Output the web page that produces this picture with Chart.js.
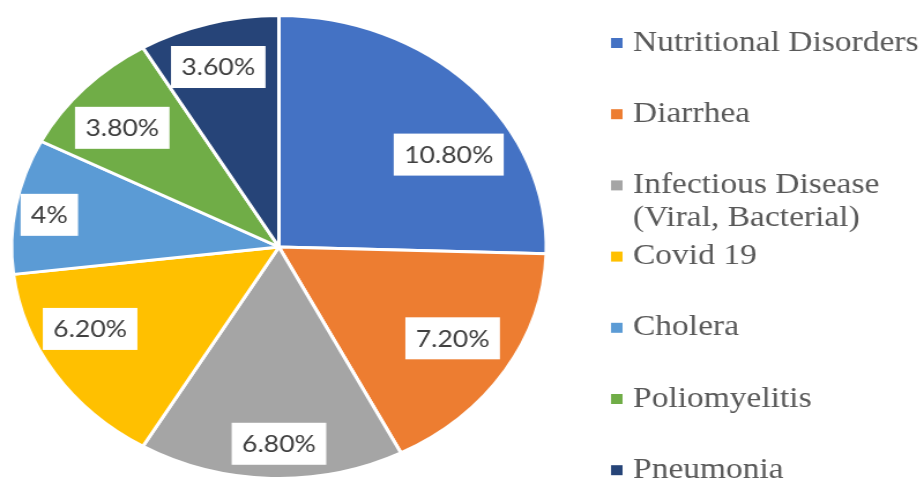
<!DOCTYPE html>
<html>
<head>
<meta charset="utf-8">
<script src="https://cdn.jsdelivr.net/npm/chart.js@4.4.1/dist/chart.umd.min.js"></script>
<style>
  html, body { margin:0; padding:0; background:#ffffff; overflow:hidden; width:924px; height:479px; }
  #wrap { position:absolute; left:0; top:0; width:800px; height:480px; transform:scaleX(1.155); transform-origin:0 0; }
</style>
</head>
<body>
<div id="wrap"><canvas id="c"></canvas></div>
<script>
// ---- data ----
const categories = ["Nutritional Disorders", "Diarrhea", ["Infectious Disease", "(Viral, Bacterial)"], "Covid 19", "Cholera", "Poliomyelitis", "Pneumonia"];
const values = [10.8, 7.2, 6.8, 6.2, 4, 3.8, 3.6];
const colors = ["#4472C4", "#ED7D31", "#A5A5A5", "#FFC000", "#5B9BD5", "#70AD47", "#264478"];

// label placement tweaks (fraction of radius, angle shift in degrees)
const labelRadius = [0.75, 0.76, 0.85, 0.79, 0.87, 0.78, 0.81];
const labelShift = [12, -1, -1.7, 6.5, -1, -2, -1];

function fmt(v) { return Number.isInteger(v) ? v + "%" : v.toFixed(2) + "%"; }

const dataLabelPlugin = {
  id: "dataLabels",
  afterDatasetsDraw(chart) {
    const ctx = chart.ctx;
    const meta = chart.getDatasetMeta(0);
    ctx.save();
    ctx.font = "23px Lato";
    ctx.textAlign = "center";
    ctx.textBaseline = "middle";
    meta.data.forEach((arc, i) => {
      const p = arc.getProps(["x", "y", "startAngle", "endAngle", "outerRadius"], true);
      const mid = (p.startAngle + p.endAngle) / 2 + labelShift[i] * Math.PI / 180;
      const r = p.outerRadius * labelRadius[i];
      const cx = p.x + Math.cos(mid) * r;
      const cy = p.y + Math.sin(mid) * r;
      const txt = fmt(values[i]);
      const w = ctx.measureText(txt).width + 18;
      const h = 42;
      ctx.fillStyle = "#ffffff";
      ctx.fillRect(cx - w / 2, cy - h / 2, w, h);
      ctx.fillStyle = "#404040";
      ctx.fillText(txt, cx, cy + 1);
    });
    ctx.restore();
  }
};

const legendPlugin = {
  id: "customLegend",
  afterDraw(chart) {
    const ctx = chart.ctx;
    ctx.save();
    ctx.font = "29px 'Liberation Serif'";
    ctx.textBaseline = "middle";
    ctx.textAlign = "left";
    const x0 = 529, tx = 548, y0 = 43, step = 71.2, lh = 33;
    categories.forEach((lab, i) => {
      const y = y0 + step * i;
      ctx.fillStyle = colors[i];
      ctx.fillRect(x0, y - 5, 10, 10);
      ctx.fillStyle = "#595959";
      const lines = Array.isArray(lab) ? lab : [lab];
      lines.forEach((ln, j) => ctx.fillText(ln, tx, y + j * lh));
    });
    ctx.restore();
  }
};

new Chart(document.getElementById("c"), {
  type: "pie",
  data: {
    labels: categories.map(c => Array.isArray(c) ? c.join(" ") : c),
    datasets: [{
      data: values,
      backgroundColor: colors,
      borderColor: "#ffffff",
      borderWidth: 3
    }]
  },
  options: {
    responsive: true,
    maintainAspectRatio: false,
    animation: false,
    layout: { padding: { left: 8.5, right: 325.5, top: 14, bottom: 0 } },
    plugins: { legend: { display: false }, tooltip: { enabled: false } }
  },
  plugins: [dataLabelPlugin, legendPlugin]
});
</script>
</body>
</html>
